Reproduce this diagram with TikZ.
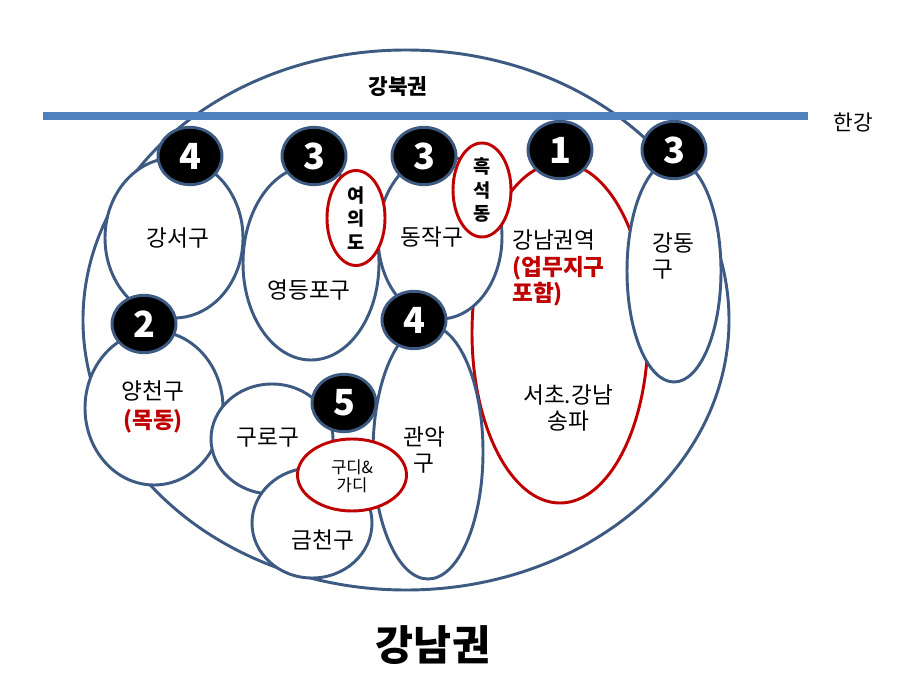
\documentclass[tikz,border=0pt]{standalone}
\usepackage{fontspec}
\setmainfont{Noto Sans CJK KR}
\usetikzlibrary{shapes.geometric}

\definecolor{rim}{RGB}{60,90,130}
\definecolor{river}{RGB}{79,129,189}
\definecolor{hot}{RGB}{192,0,0}
\newcommand\hotbf[1]{{\color{hot}\bfseries #1}}

\begin{document}
\begin{tikzpicture}[
    x=0.75pt, y=-0.75pt,
    every node/.style={font=\fontsize{17}{20}\selectfont, inner sep=0pt},
    gu/.style 2 args={ellipse, draw=rim, line width=2.2pt, fill=white,
        minimum width=#1*0.75pt, minimum height=#2*0.75pt},
    hub/.style 2 args={gu={#1}{#2}, draw=hot},
    badge/.style={ellipse, draw=rim, line width=2.2pt, fill=black, text=white,
        minimum width=48pt, minimum height=43pt,
        font=\fontsize{27}{28}\selectfont\bfseries},
    small/.style={align=center, font=\fontsize{14}{17.6}\selectfont\bfseries}
]
\useasboundingbox (0,0) rectangle (912,684);

% whole area and the river
\node[gu={646}{540}] (all) at (406,320) {};
\coordinate (rw) at (43,116);
\coordinate (re) at (808,116);
\draw[river, line width=5.5pt] (rw) -- (re);

% districts
\node[hub={176}{340}] (gnr) at (560,333) {};
\node[gu={138}{160}] (gs) at (174,238) {};
\node[gu={136}{194}] (ydp) at (311,263) {};
\node[gu={124}{164}] (dj) at (440,237) {};
\node[gu={94}{222}] (gd) at (674,271) {};
\node[gu={138}{154}] (yc) at (154,408) {};
\node[gu={122}{110}] (gr) at (272,439) {};
\node[gu={120}{110}] (gc) at (312,523) {};
\node[gu={110}{254}] (ga) at (428,452) {};

% hot spots
\node[hub={58}{95}] (yid) at (356,218) {};
\node[hub={58}{94}] (hs) at (482,190) {};
\node[hub={109}{72}] (gdi) at (352,475) {};

% ranks
\node[badge] (r1) at (190,156) {4};
\node[badge] (r2) at (314,156) {3};
\node[badge] (r3) at (424,156) {3};
\node[badge] (r4) at (560,150) {1};
\node[badge] (r5) at (674,150) {3};
\node[badge] (r6) at (144,324) {2};
\node[badge] (r7) at (414,320) {4};
\node[badge] (r8) at (344,403) {5};

% labels
\node (tn) at (398,87) {\fontsize{16}{18}\selectfont\bfseries 강북권};
\node (th) at (853,122) {\fontsize{16}{18}\selectfont 한강};
\node (ts) at (433,645) {\fontsize{31}{36}\selectfont\bfseries 강남권};

\node (tgs) at (178,238) {강서구};
\node (tydp) at (309,290) {영등포구};
\node (tdj) at (432,237) {동작구};
\node[align=left, anchor=west, font=\fontsize{17}{20}\selectfont] (tgnr) at (512,268)
    {강남권역\\\hotbf{(업무지구}\\\hotbf{포함)}};
\node[align=center, font=\fontsize{17}{19.5}\selectfont] (tsc) at (568,408) {서초.강남\\송파};
\node[align=left, anchor=west, font=\fontsize{17}{20}\selectfont] (tgd) at (652,256) {강동\\구};
\node[align=center, font=\fontsize{17}{21.5}\selectfont] (tyc) at (153,407) {양천구\\\hotbf{(목동)}};
\node (tgr) at (268,438) {구로구};
\node (tgc) at (323,540) {금천구};
\node[align=center, font=\fontsize{17}{19.5}\selectfont] (tga) at (424,450) {관악\\구};

\node[small] (tyid) at (356,218) {여\\의\\도};
\node[small] (ths) at (482,190) {흑\\석\\동};
\node[align=center, font=\fontsize{12.5}{13.5}\selectfont] (tgdi) at (352,476) {구디\&\\가디};
\end{tikzpicture}
\end{document}
